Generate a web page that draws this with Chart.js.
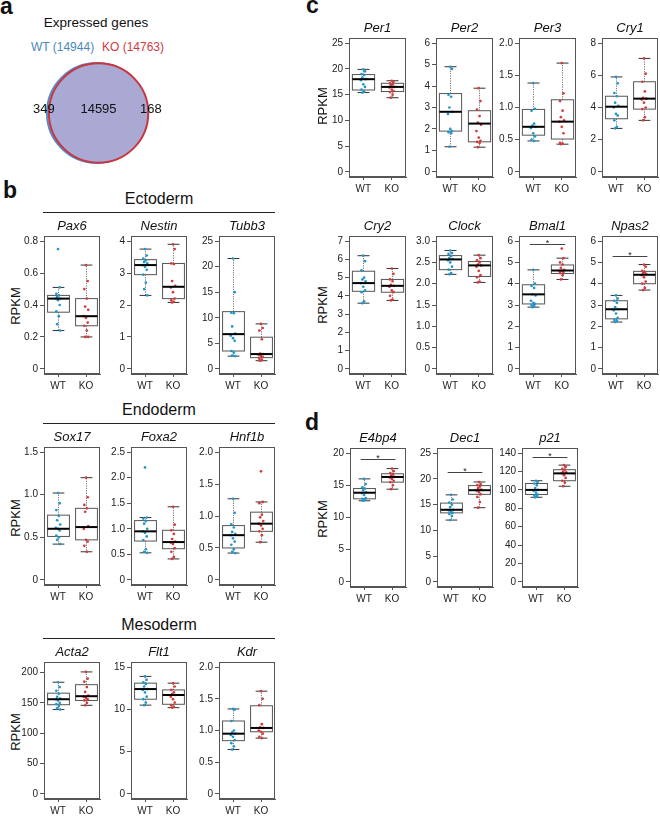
<!DOCTYPE html>
<html>
<head>
<meta charset="utf-8">
<script src="https://cdn.jsdelivr.net/npm/chart.js@4.4.1/dist/chart.umd.min.js"></script>
<style>
  body { margin: 0; background: #fff; }
  #fig { position: relative; width: 660px; height: 816px; overflow: hidden;
         font-family: 'Liberation Sans', Arial, sans-serif; color: #111; }
  .t { position: absolute; white-space: nowrap; line-height: 1; }
  .rule { position: absolute; height: 1px; background: #222; }
  canvas { position: absolute; }
</style>
</head>
<body>
<div id="fig"></div>
<script>
// ---- data ----
const groups = ['WT', 'KO']

// venn (panel a)
const wtTotal = 14944
const koTotal = 14763
const vennCounts = [349, 14595, 168] // WT only, both, KO only

const genes = ['Pax6', 'Nestin', 'Tubb3', 'Sox17', 'Foxa2', 'Hnf1b', 'Acta2', 'Flt1', 'Kdr',
  'Per1', 'Per2', 'Per3', 'Cry1', 'Cry2', 'Clock', 'Bmal1', 'Npas2', 'E4bp4', 'Dec1', 'p21']

const axisTop = [0.8, 4, 25, 1.5, 2.5, 2.0, 209, 15, 2.0, 25, 6, 2.0, 8, 7, 3.0, 6, 6, 20, 25, 140]
const tickStep = [0.2, 1, 5, 0.5, 0.5, 0.5, 50, 5, 0.5, 5, 1, 0.5, 2, 1, 0.5, 1, 1, 5, 5, 20]

// [low whisker, q1, median, q3, high whisker]
const wtBoxes = [
  [0.24, 0.355, 0.44, 0.46, 0.51], [2.3, 2.95, 3.25, 3.42, 3.75], [2.5, 3.5, 6.8, 11.2, 21.6],
  [0.42, 0.51, 0.60, 0.76, 1.02], [0.53, 0.76, 0.95, 1.16, 1.22], [0.42, 0.50, 0.70, 0.85, 1.27],
  [139, 147, 156, 166, 184], [10.5, 11.2, 12.4, 13.1, 13.9], [0.70, 0.84, 0.95, 1.15, 1.34],
  [15.4, 15.9, 18.0, 18.9, 19.9], [1.17, 1.9, 2.8, 3.65, 4.9], [0.48, 0.57, 0.70, 0.97, 1.38],
  [2.7, 3.3, 4.05, 4.7, 5.9], [3.6, 4.25, 4.7, 5.35, 6.2], [2.22, 2.33, 2.57, 2.66, 2.78],
  [2.9, 3.05, 3.5, 3.95, 4.65], [2.2, 2.35, 2.8, 3.2, 3.45], [12.6, 12.9, 13.85, 14.5, 16.0],
  [12.0, 13.4, 14.0, 15.3, 16.9], [92, 95, 100, 107, 110]
]
const koBoxes = [
  [0.20, 0.27, 0.33, 0.44, 0.65], [2.08, 2.2, 2.57, 3.3, 3.9], [1.6, 2.2, 2.9, 6.2, 8.8],
  [0.33, 0.47, 0.62, 0.84, 1.2], [0.41, 0.61, 0.74, 0.97, 1.43], [0.59, 0.76, 0.88, 1.06, 1.22],
  [146, 154, 161, 180, 201], [10.2, 10.6, 11.7, 12.3, 13.1], [0.88, 0.98, 1.04, 1.39, 1.62],
  [14.4, 15.6, 16.5, 17.2, 17.7], [1.15, 1.4, 2.25, 2.85, 3.9], [0.43, 0.51, 0.78, 1.12, 1.69],
  [3.2, 3.9, 4.55, 5.6, 7.05], [3.75, 4.2, 4.55, 4.9, 5.5], [2.03, 2.17, 2.43, 2.52, 2.67],
  [4.2, 4.48, 4.62, 4.88, 5.2], [3.7, 4.0, 4.42, 4.58, 4.9], [14.4, 15.5, 16.3, 16.8, 17.6],
  [14.4, 17.0, 17.8, 18.7, 19.4], [104, 110, 118, 122, 127]
]

const wtPoints = [
  [0.75, 0.51, 0.47, 0.46, 0.45, 0.44, 0.44, 0.43, 0.40, 0.36, 0.33, 0.28, 0.24],
  [3.75, 3.55, 3.45, 3.40, 3.35, 3.30, 3.25, 3.20, 3.10, 2.95, 2.70, 2.50, 2.30],
  [21.6, 15.0, 11.0, 10.9, 8.3, 6.9, 6.5, 6.0, 5.5, 3.5, 3.2, 2.6, 2.5],
  [1.02, 0.90, 0.82, 0.75, 0.70, 0.65, 0.61, 0.60, 0.58, 0.52, 0.50, 0.47, 0.42],
  [2.20, 1.22, 1.20, 1.15, 1.10, 1.00, 0.95, 0.92, 0.85, 0.78, 0.60, 0.55, 0.53],
  [1.27, 1.05, 0.87, 0.82, 0.75, 0.72, 0.70, 0.65, 0.60, 0.55, 0.48, 0.44, 0.42],
  [184, 176, 170, 165, 160, 157, 156, 154, 150, 148, 145, 141, 139],
  [13.9, 13.5, 13.2, 13.0, 12.7, 12.4, 12.3, 12.0, 11.5, 11.2, 10.8, 10.5],
  [1.34, 1.33, 1.15, 1.00, 0.97, 0.95, 0.93, 0.90, 0.85, 0.80, 0.75, 0.70],
  [19.9, 19.5, 19.0, 18.8, 18.3, 18.0, 17.8, 17.0, 16.5, 16.0, 15.6, 15.4],
  [4.9, 4.8, 3.6, 3.5, 3.0, 2.8, 2.7, 2.0, 1.9, 1.85, 1.8, 1.17],
  [1.38, 0.98, 0.95, 0.75, 0.72, 0.70, 0.68, 0.60, 0.55, 0.50, 0.48],
  [5.9, 5.5, 4.9, 4.7, 4.3, 4.1, 4.0, 3.6, 3.5, 3.2, 2.8, 2.7],
  [6.2, 5.9, 5.4, 5.0, 4.9, 4.8, 4.7, 4.5, 4.3, 4.2, 3.7, 3.6],
  [2.78, 2.72, 2.70, 2.65, 2.60, 2.58, 2.55, 2.50, 2.40, 2.33, 2.25, 2.22],
  [4.65, 4.0, 3.9, 3.8, 3.5, 3.45, 3.2, 3.1, 3.05, 3.0, 2.95, 2.9],
  [3.45, 3.3, 3.2, 3.1, 2.9, 2.8, 2.75, 2.6, 2.4, 2.3, 2.25, 2.2],
  [16.0, 15.2, 14.7, 14.5, 14.2, 13.9, 13.8, 13.5, 13.0, 12.9, 12.7, 12.6],
  [16.9, 16.0, 15.4, 15.0, 14.5, 14.0, 13.9, 13.6, 13.4, 13.2, 12.8, 12.0],
  [110, 109, 107, 105, 102, 100, 99, 97, 95, 94, 93, 92]
]
const koPoints = [
  [0.65, 0.55, 0.50, 0.44, 0.39, 0.37, 0.33, 0.32, 0.29, 0.27, 0.24, 0.20, 0.20],
  [3.90, 3.75, 3.30, 3.28, 2.75, 2.60, 2.55, 2.40, 2.20, 2.15, 2.10, 2.08],
  [8.8, 8.0, 7.5, 5.8, 3.0, 2.9, 2.7, 2.5, 2.3, 2.0, 1.7, 1.6],
  [1.20, 0.97, 0.88, 0.84, 0.80, 0.63, 0.60, 0.47, 0.45, 0.40, 0.33],
  [1.43, 1.08, 0.97, 0.90, 0.80, 0.75, 0.73, 0.70, 0.62, 0.55, 0.45, 0.41],
  [1.70, 1.22, 1.20, 1.02, 0.98, 0.92, 0.88, 0.85, 0.80, 0.76, 0.70, 0.59],
  [201, 190, 185, 176, 168, 162, 160, 158, 156, 154, 150, 146],
  [13.1, 12.7, 12.3, 12.0, 11.8, 11.7, 11.5, 11.2, 10.8, 10.5, 10.3, 10.2],
  [1.62, 1.50, 1.40, 1.10, 1.05, 1.04, 1.00, 0.98, 0.95, 0.90, 0.88],
  [17.7, 17.5, 17.2, 17.0, 16.8, 16.5, 16.4, 16.0, 15.7, 15.5, 15.0, 14.4],
  [3.9, 3.3, 2.9, 2.6, 2.3, 2.2, 1.9, 1.6, 1.45, 1.4, 1.35, 1.15],
  [1.69, 1.22, 1.10, 0.95, 0.85, 0.80, 0.78, 0.70, 0.60, 0.45, 0.44, 0.43],
  [7.05, 6.1, 5.6, 5.0, 4.6, 4.55, 4.5, 4.3, 4.0, 3.9, 3.4, 3.2],
  [5.5, 5.2, 4.9, 4.8, 4.6, 4.55, 4.5, 4.3, 4.2, 4.0, 3.8, 3.75],
  [2.67, 2.60, 2.55, 2.50, 2.45, 2.43, 2.40, 2.30, 2.20, 2.15, 2.05, 2.03],
  [5.65, 5.2, 5.0, 4.9, 4.75, 4.65, 4.6, 4.6, 4.55, 4.5, 4.4, 4.2],
  [4.9, 4.8, 4.6, 4.55, 4.5, 4.45, 4.4, 4.3, 4.1, 4.0, 3.8, 3.7],
  [17.6, 17.2, 16.9, 16.7, 16.5, 16.3, 16.2, 16.0, 15.7, 15.5, 15.0, 14.4],
  [19.4, 19.0, 18.8, 18.5, 18.2, 17.9, 17.7, 17.4, 17.0, 16.5, 15.5, 14.4],
  [127, 125, 123, 122, 120, 119, 118, 116, 113, 110, 108, 104]
]

// height of the significance bar (null = none)
const sigLevel = [null, null, null, null, null, null, null, null, null,
  null, null, null, null, null, null, 5.85, 5.3, 19.1, 21.4, 135.5]

// ---- layout ----
// plot frame [left, top, width, height] in page pixels
const frames = [
  [44, 236, 56, 138], [131, 236, 56, 138], [219, 236, 56, 138],
  [44, 447, 56, 138], [131, 447, 56, 138], [219, 447, 56, 138],
  [44, 662, 56, 137], [131, 662, 56, 137], [219, 662, 56, 137],
  [349, 38, 57, 139], [436, 38, 57, 139], [519, 38, 57, 139], [602, 38, 56, 139],
  [349, 236, 57, 138], [436, 236, 57, 138], [519, 236, 57, 138], [602, 236, 56, 138],
  [350, 448, 56, 139], [437, 448, 56, 139], [522, 448, 56, 139]
]

const FONT = "'Liberation Sans', Arial, sans-serif"
const pointColors = ['#2596c8', '#d23c3c']
const jitter = [0, 0.06, -0.06, 0.03, -0.03, 0.08, -0.08]
const AXIS_W = 30, AXIS_H = 22, PAD_T = 8, PAD_R = 2

Chart.defaults.font.family = FONT
Chart.defaults.color = '#222'

const fig = document.getElementById('fig')

function text(str, x, base, size, o = {}) {
  const el = document.createElement('div')
  el.className = 't'
  el.textContent = str
  el.style.fontSize = size + 'px'
  el.style.left = x + 'px'
  el.style.top = (base - 0.8465 * size) + 'px'
  if (o.center) el.style.transform = 'translateX(-50%)'
  if (o.bold) el.style.fontWeight = 'bold'
  if (o.italic) el.style.fontStyle = 'italic'
  if (o.color) el.style.color = o.color
  fig.appendChild(el)
}

function vlabel(str, cx, cy) {
  const el = document.createElement('div')
  el.className = 't'
  el.textContent = str
  el.style.fontSize = '13px'
  el.style.left = cx + 'px'
  el.style.top = cy + 'px'
  el.style.transform = 'translate(-50%, -50%) rotate(-90deg)'
  fig.appendChild(el)
}

function rule(x1, x2, y) {
  const el = document.createElement('div')
  el.className = 'rule'
  el.style.left = x1 + 'px'
  el.style.width = (x2 - x1) + 'px'
  el.style.top = y + 'px'
  fig.appendChild(el)
}

function makeCanvas(left, top, w, h) {
  const c = document.createElement('canvas')
  c.width = w
  c.height = h
  c.style.left = left + 'px'
  c.style.top = top + 'px'
  c.style.width = w + 'px'
  c.style.height = h + 'px'
  fig.appendChild(c)
  return c
}

// box, whiskers, caps, median and significance bar, drawn through the chart scales
const boxPlugin = {
  id: 'boxes',
  beforeDatasetsDraw(chart, args, opts) {
    const { ctx, chartArea: a, scales: { x, y } } = chart
    ctx.save()
    ctx.strokeStyle = '#555'
    ctx.lineWidth = 1
    ctx.strokeRect(Math.round(a.left) + 0.5, Math.round(a.top) + 0.5,
      Math.round(a.width) - 1, Math.round(a.height) - 1)
    opts.stats.forEach((s, i) => {
      const [lo, q1, med, q3, hi] = s.map(v => y.getPixelForValue(v))
      const cx = Math.round(x.getPixelForValue(i)) + 0.5
      const hw = x.getPixelForValue(i + 0.39) - x.getPixelForValue(i)
      const cw = x.getPixelForValue(i + 0.21) - x.getPixelForValue(i)
      ctx.strokeStyle = '#777'
      ctx.setLineDash([1.2, 1.2])
      ctx.beginPath()
      ctx.moveTo(cx, q3); ctx.lineTo(cx, hi)
      ctx.moveTo(cx, q1); ctx.lineTo(cx, lo)
      ctx.stroke()
      ctx.setLineDash([])
      ctx.strokeStyle = '#333'
      ctx.beginPath()
      ctx.moveTo(cx - cw, hi); ctx.lineTo(cx + cw, hi)
      ctx.moveTo(cx - cw, lo); ctx.lineTo(cx + cw, lo)
      ctx.stroke()
      ctx.strokeStyle = '#555'
      ctx.strokeRect(cx - hw, q3, hw * 2, q1 - q3)
    })
    ctx.restore()
  },
  afterDatasetsDraw(chart, args, opts) {
    const { ctx, scales: { x, y } } = chart
    ctx.save()
    ctx.strokeStyle = '#000'
    ctx.lineWidth = 2
    opts.stats.forEach((s, i) => {
      const cx = Math.round(x.getPixelForValue(i)) + 0.5
      const hw = x.getPixelForValue(i + 0.39) - x.getPixelForValue(i)
      const m = y.getPixelForValue(s[2])
      ctx.beginPath()
      ctx.moveTo(cx - hw, m); ctx.lineTo(cx + hw, m)
      ctx.stroke()
    })
    if (opts.sig != null) {
      const yy = Math.round(y.getPixelForValue(opts.sig)) + 0.5
      ctx.lineWidth = 1
      ctx.strokeStyle = '#444'
      ctx.beginPath()
      ctx.moveTo(x.getPixelForValue(-0.12), yy)
      ctx.lineTo(x.getPixelForValue(1.12), yy)
      ctx.stroke()
      ctx.fillStyle = '#222'
      ctx.font = '9px ' + FONT
      ctx.textAlign = 'center'
      ctx.textBaseline = 'alphabetic'
      ctx.fillText('*', x.getPixelForValue(0.5), yy + 1.5)
    }
    ctx.restore()
  }
}

function tickLabel(v, step) {
  if (Math.abs(v) < 1e-9) return '0'
  return step < 1 ? v.toFixed(1) : String(Math.round(v))
}

function boxChart(g) {
  const [fl, ft, fw, fh] = frames[g]
  const W = fw + AXIS_W + PAD_R
  const H = fh + PAD_T + AXIS_H
  const canvas = makeCanvas(fl - AXIS_W, ft - PAD_T, W, H)
  const top = axisTop[g]
  const step = tickStep[g]
  const yTicks = []
  for (let k = 0; k * step <= top + 1e-9; k++) yTicks.push(+(k * step).toFixed(4))

  text(genes[g], fl + fw / 2, ft - 6, 13, { center: true, italic: true })

  return new Chart(canvas, {
    type: 'scatter',
    data: {
      datasets: groups.map((grp, k) => ({
        label: grp,
        data: (k ? koPoints : wtPoints)[g].map((v, i) => ({ x: k + jitter[i % jitter.length], y: v })),
        backgroundColor: pointColors[k],
        borderWidth: 0,
        pointRadius: 1.35,
        clip: false,
      })),
    },
    options: {
      responsive: false,
      animation: false,
      devicePixelRatio: 1,
      events: [],
      layout: { autoPadding: false, padding: { top: PAD_T, right: PAD_R, left: 0, bottom: 0 } },
      plugins: {
        legend: { display: false },
        tooltip: { enabled: false },
        boxes: { stats: [wtBoxes[g], koBoxes[g]], sig: sigLevel[g] },
      },
      scales: {
        x: {
          type: 'linear',
          min: -0.5,
          max: 1.5,
          afterBuildTicks: s => { s.ticks = [0, 1].map(value => ({ value })) },
          afterFit: s => { s.height = AXIS_H },
          ticks: { callback: v => groups[v], font: { size: 10 }, color: '#222', padding: 3, maxRotation: 0, autoSkip: false },
          grid: { display: true, drawOnChartArea: false, drawTicks: true, tickLength: 3, color: '#555' },
          border: { display: true, color: '#555' },
        },
        y: {
          type: 'linear',
          min: -0.04 * top,
          max: 1.04 * top,
          afterBuildTicks: s => { s.ticks = yTicks.map(value => ({ value })) },
          afterFit: s => { s.width = AXIS_W },
          ticks: { callback: v => tickLabel(v, step), font: { size: 10 }, color: '#222', padding: 2, autoSkip: false },
          grid: { display: true, drawOnChartArea: false, drawTicks: true, tickLength: 4, color: '#555' },
          border: { display: true, color: '#555' },
        },
      },
    },
    plugins: [boxPlugin],
  })
}

// ---- panel letters ----
text('a', 0, 14, 23, { bold: true })
text('b', 3, 198, 23, { bold: true })
text('c', 306, 13, 23, { bold: true })
text('d', 305, 430, 23, { bold: true })

// ---- panel a: venn ----
text('Expressed genes', 96, 27, 13.5, { center: true })
text(`WT (${wtTotal})`, 31, 51, 12, { color: '#4d87bf' })
text(`KO (${koTotal})`, 102, 51, 12, { color: '#cc3b43' })

const rWT = 50
const rKO = rWT * Math.sqrt(koTotal / wtTotal)
const vennCanvas = makeCanvas(38, 53, 120, 120)
new Chart(vennCanvas, {
  type: 'bubble',
  data: {
    datasets: [
      { label: 'KO', data: [{ x: rKO * vennCounts[2] / koTotal, y: 0, r: rKO }],
        backgroundColor: '#a9a9d4', borderColor: '#c9363f', borderWidth: 2, clip: false },
      { label: 'WT', data: [{ x: -rWT * vennCounts[0] / wtTotal, y: 0, r: rWT }],
        backgroundColor: '#a9a9d4', borderColor: '#4f8cc9', borderWidth: 1.8, clip: false },
    ],
  },
  options: {
    responsive: false, animation: false, devicePixelRatio: 1, events: [],
    layout: { autoPadding: false, padding: 0 },
    plugins: { legend: { display: false }, tooltip: { enabled: false } },
    scales: {
      x: { display: false, min: -60, max: 60 },
      y: { display: false, min: -60, max: 60 },
    },
  },
})
text(String(vennCounts[0]), 33, 113, 13)
text(String(vennCounts[1]), 98.5, 113, 13, { center: true })
text(String(vennCounts[2]), 140, 113, 13)

// ---- panel b headings ----
text('Ectoderm', 159, 205, 16, { center: true })
rule(43, 275, 212)
text('Endoderm', 159, 416, 16, { center: true })
rule(43, 275, 423)
text('Mesoderm', 159, 631, 16, { center: true })
rule(43, 275, 638)

vlabel('RPKM', 15, 306)
vlabel('RPKM', 15, 518)
vlabel('RPKM', 15, 732)
vlabel('RPKM', 322, 106)
vlabel('RPKM', 322, 305)
vlabel('RPKM', 322, 519)

genes.forEach((_, g) => boxChart(g))
</script>
</body>
</html>
